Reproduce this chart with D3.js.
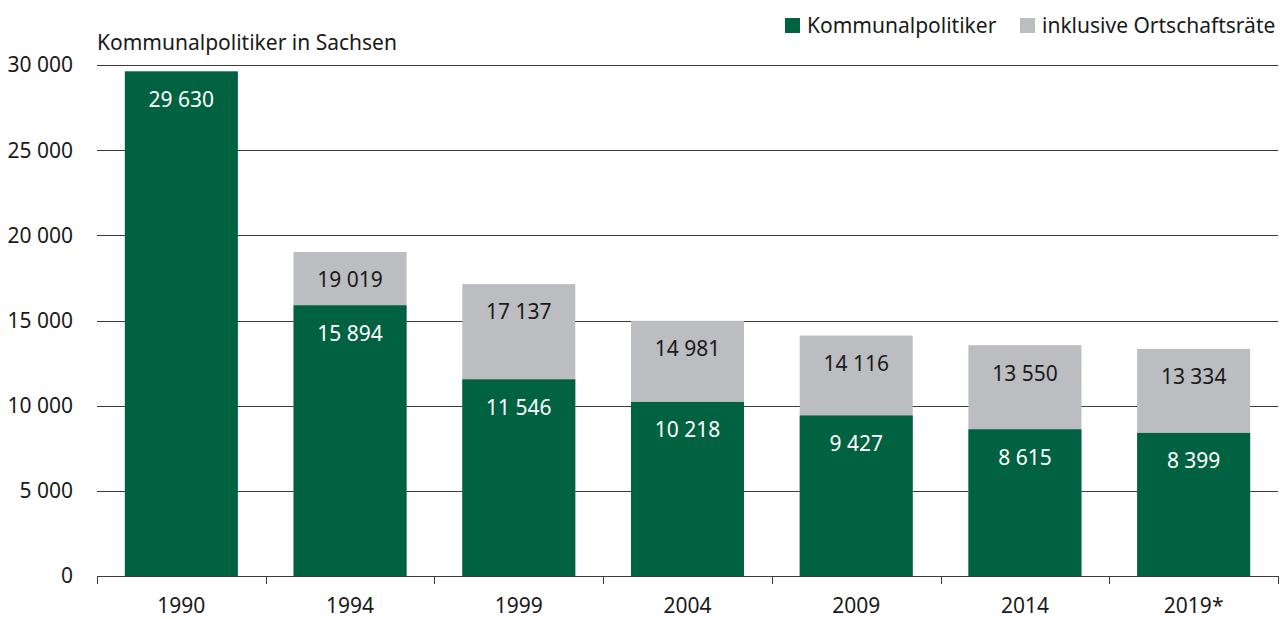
<!DOCTYPE html>
<html>
<head>
<meta charset="utf-8">
<script src="https://cdn.jsdelivr.net/npm/d3@7"></script>
<style>
  html, body { margin: 0; padding: 0; background: #fff; }
  svg text { font-family: "Noto Sans", "Open Sans", sans-serif; fill: #1a1a1a; }
</style>
</head>
<body>
<svg id="chart" width="1282" height="619"></svg>
<script>
const years = ["1990", "1994", "1999", "2004", "2009", "2014", "2019*"];
const kommunal = [29630, 15894, 11546, 10218, 9427, 8615, 8399];
const inklusive = [null, 19019, 17137, 14981, 14116, 13550, 13334];
const yTicks = [0, 5000, 10000, 15000, 20000, 25000, 30000];

const W = 1282, H = 619;
const m = { top: 65, right: 4, bottom: 43, left: 97 };
const iW = W - m.left - m.right;
const iH = H - m.top - m.bottom;
const GREEN = "#006241", GRAY = "#bcbdc0";
const FS = "21px";
const fmt = v => d3.format(",")(v).replace(/,/g, " ");

const svg = d3.select("#chart");
const g = svg.append("g").attr("transform", `translate(${m.left},${m.top})`);

const x = d3.scaleBand().domain(years).range([0, iW]).paddingInner(0.33).paddingOuter(0.165);
const y = d3.scaleLinear().domain([0, 30000]).range([iH, 0]);

// Grid
g.append("g").selectAll("line").data(yTicks.slice(1)).join("line")
  .attr("x1", 0).attr("x2", iW)
  .attr("y1", d => Math.round(y(d)) + 0.5).attr("y2", d => Math.round(y(d)) + 0.5)
  .attr("stroke", "#3c3c3c").attr("stroke-width", 1);

// Y labels
g.append("g").selectAll("text").data(yTicks).join("text")
  .attr("x", -24).attr("y", d => y(d)).attr("dy", "0.35em")
  .attr("text-anchor", "end").style("font-size", FS)
  .text(d => fmt(d));

// Y title
g.append("text").attr("x", 0).attr("y", -15)
  .style("font-size", FS).text("Kommunalpolitiker in Sachsen");

// Bars: inklusive (gray) behind
const gData = years.map((d, i) => ({ year: d, v: inklusive[i] })).filter(d => d.v != null);
const kData = years.map((d, i) => ({ year: d, v: kommunal[i] }));

g.selectAll(".bar-g").data(gData).join("rect")
  .attr("class", "bar-g")
  .attr("x", d => x(d.year)).attr("width", x.bandwidth())
  .attr("y", d => y(d.v)).attr("height", d => iH - y(d.v))
  .attr("fill", GRAY);

g.selectAll(".bar-k").data(kData).join("rect")
  .attr("class", "bar-k")
  .attr("x", d => x(d.year)).attr("width", x.bandwidth())
  .attr("y", d => y(d.v)).attr("height", d => iH - y(d.v))
  .attr("fill", GREEN);

// Value labels
g.selectAll(".lab-g").data(gData).join("text")
  .attr("class", "lab-g")
  .attr("x", d => x(d.year) + x.bandwidth() / 2).attr("y", d => y(d.v) + 28).attr("dy", "0.35em")
  .attr("text-anchor", "middle").style("font-size", FS)
  .text(d => fmt(d.v));

g.selectAll(".lab-k").data(kData).join("text")
  .attr("class", "lab-k")
  .attr("x", d => x(d.year) + x.bandwidth() / 2).attr("y", d => y(d.v) + 28).attr("dy", "0.35em")
  .attr("text-anchor", "middle").style("font-size", FS).style("fill", "#fff")
  .text(d => fmt(d.v));

// X axis
const xAxis = g.append("g").attr("transform", `translate(0,${iH})`);
xAxis.append("line").attr("x1", 0).attr("x2", iW).attr("y1", 0.5).attr("y2", 0.5)
  .attr("stroke", "#3c3c3c");
const step = x.step();
const edge = i => Math.round(x(years[0]) - x.paddingOuter() * step + i * step) + 0.5;
xAxis.selectAll(".tk").data(d3.range(years.length + 1)).join("line")
  .attr("class", "tk")
  .attr("x1", edge).attr("x2", edge)
  .attr("y1", 0).attr("y2", 8).attr("stroke", "#3c3c3c");
xAxis.selectAll(".xl").data(years).join("text")
  .attr("class", "xl")
  .attr("x", d => x(d) + x.bandwidth() / 2).attr("y", 37)
  .attr("text-anchor", "middle").style("font-size", FS)
  .text(d => d);

// Legend
const leg = svg.append("g");
const items = [
  { label: "Kommunalpolitiker", color: GREEN, x: 785 },
  { label: "inklusive Ortschaftsräte", color: GRAY, x: 1020 }
];
items.forEach(it => {
  leg.append("rect").attr("x", it.x).attr("y", 18).attr("width", 15).attr("height", 15).attr("fill", it.color);
  leg.append("text").attr("x", it.x + 22).attr("y", 26).attr("dy", "0.35em")
    .style("font-size", FS).text(it.label);
});
</script>
</body>
</html>
